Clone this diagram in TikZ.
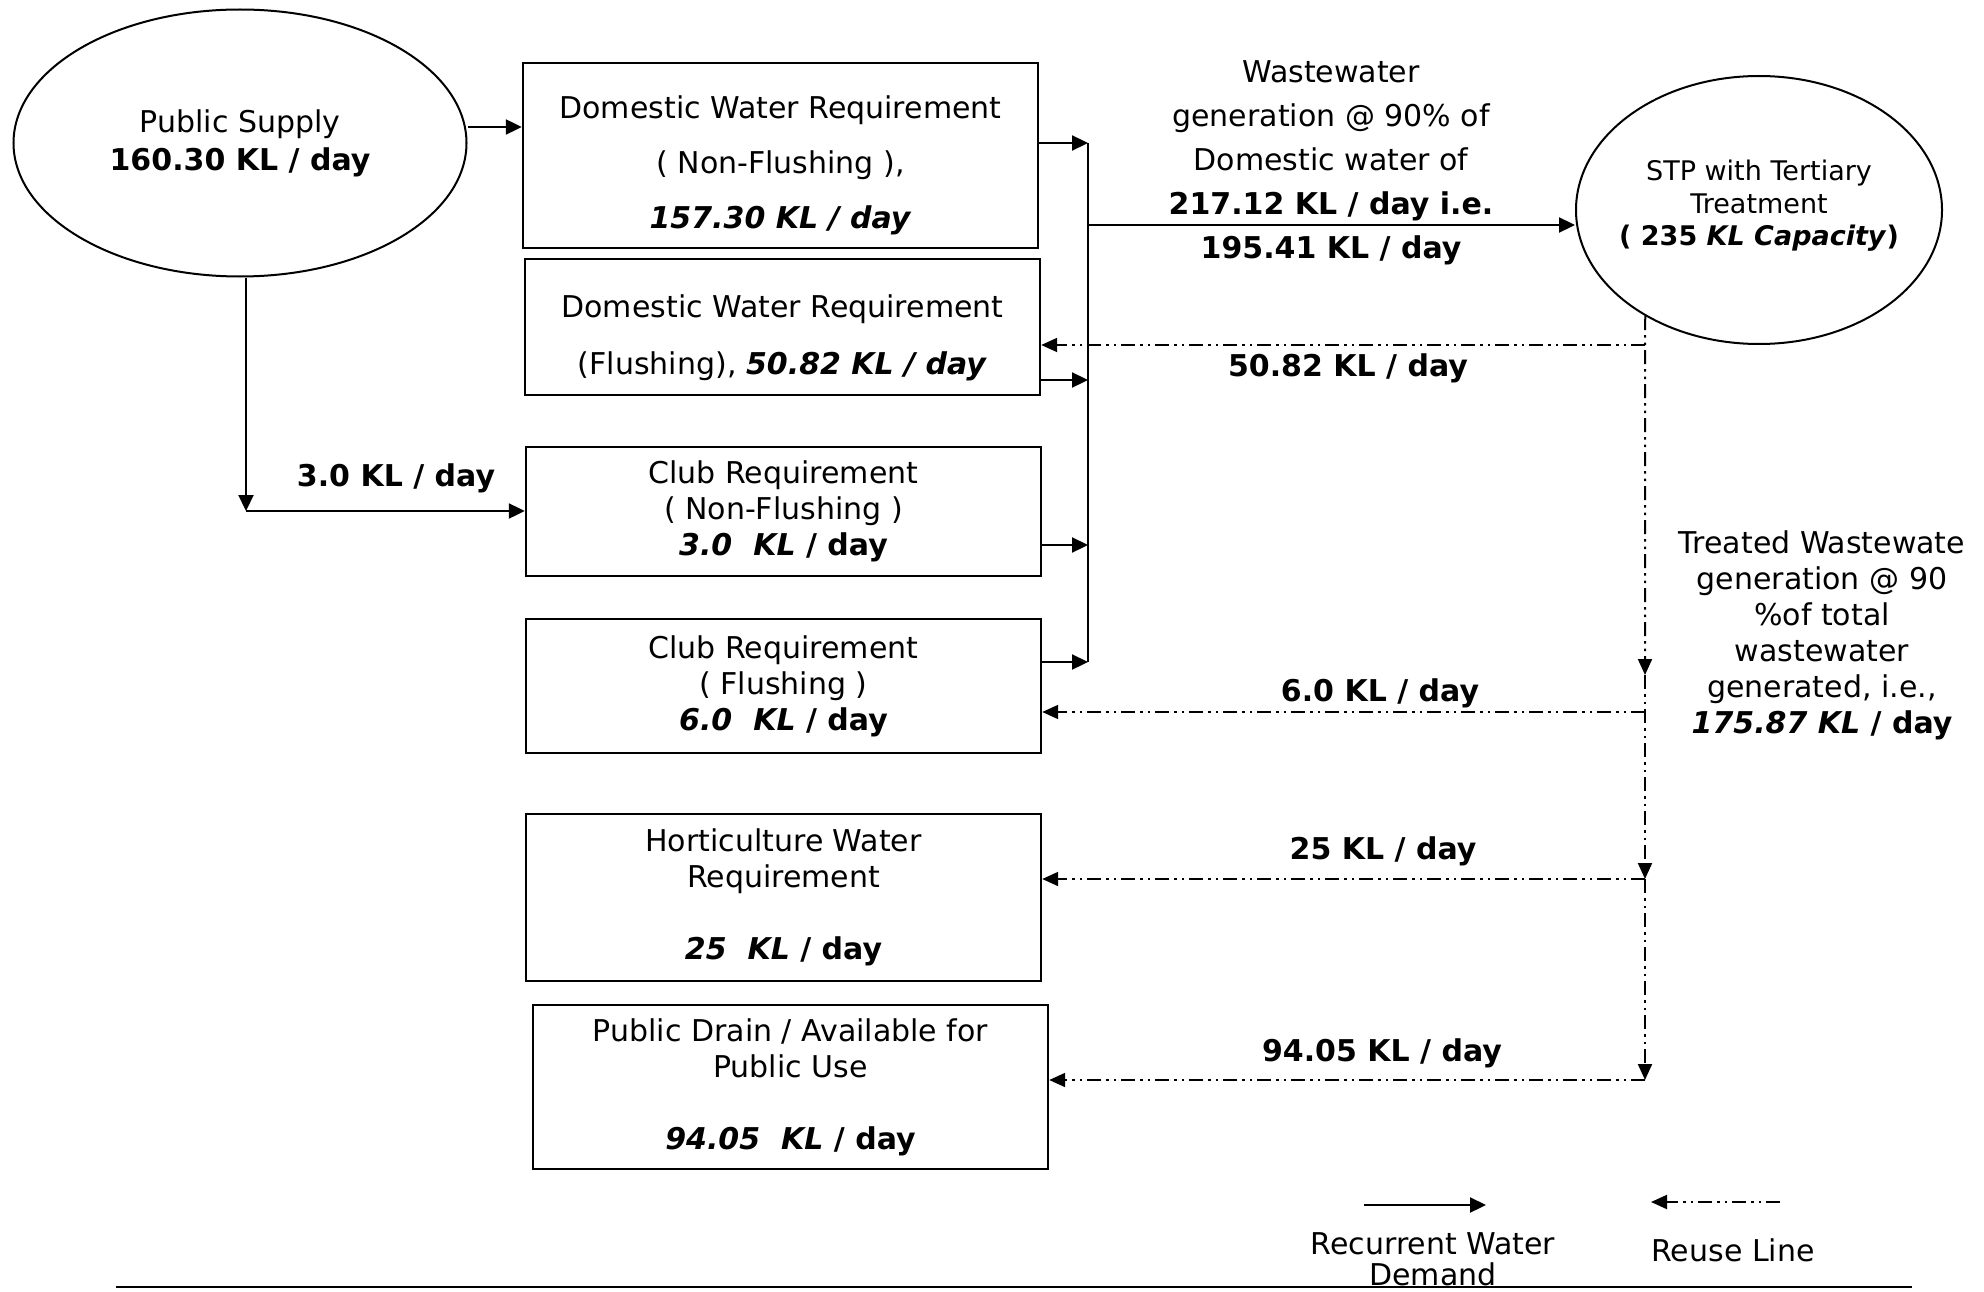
\documentclass[tikz,border=0pt]{standalone}
\usepackage{fontspec}
\setmainfont{DejaVu Sans}
\usetikzlibrary{arrows.meta,shapes.geometric}
\begin{document}
\begin{tikzpicture}[x=1pt,y=-1pt,
  every node/.style={font=\fontsize{30}{36}\selectfont, inner sep=0pt, align=center},
  box/.style={draw, line width=2.4pt, rectangle, minimum width=515pt},
  oval/.style={draw, ellipse, line width=2pt},
  arr/.style={line width=2.2pt, -{Triangle[length=16pt,width=15pt]}},
  reuse/.style={line width=2pt, dash pattern=on 14pt off 5pt on 2.5pt off 5pt on 2.5pt off 5pt, -{Triangle[length=16pt,width=14pt]}},
  lbl/.style={font=\fontsize{30}{36}\selectfont\bfseries}]
\useasboundingbox (0,0) rectangle (1984,1292);

% main nodes
\node[oval, minimum width=453pt, minimum height=267pt] (ps) at (240,143) {};
\node (pst) at (ps) {Public Supply\\[2pt]\textbf{160.30 KL / day}};
\node[oval, minimum width=366pt, minimum height=268pt] (stp) at (1759,210) {};
\node[font=\fontsize{27}{32.5}\selectfont] (stpt) at (1759,206)
  {STP with Tertiary\\Treatment\\\textbf{( 235 \textit{KL Capacity})}};

\node[box, minimum height=185pt, font=\fontsize{30}{55}\selectfont] (b1) at (780.5,155.5)
  {\rule{0pt}{43pt}Domestic Water Requirement\\( Non-Flushing ),\\\textbf{\textit{157.30 KL / day}}};
\node[box, minimum height=136pt, font=\fontsize{30}{57}\selectfont] (b2) at (782.5,327)
  {\rule{0pt}{45pt}Domestic Water Requirement\\(Flushing), \textbf{\textit{50.82 KL / day}}};
\node[box, minimum height=129pt] (b3) at (783.5,511.5)
  {Club Requirement\\( Non-Flushing )\\\textbf{\textit{3.0\ \ KL} / day}};
\node[box, minimum height=134pt] (b4) at (783.5,686)
  {Club Requirement\\( Flushing )\\\textbf{\textit{6.0\ \ KL} / day}};
\node[box, minimum height=167pt] (b5) at (783.5,897.5)
  {Horticulture Water\\Requirement\\[36pt]\textbf{\textit{25\ \ KL} / day}};
\node[box, minimum height=164pt] (b6) at (790.5,1087)
  {Public Drain / Available for\\Public Use\\[36pt]\textbf{\textit{94.05\ \ KL} / day}};

% labels
\node[lbl] (l30) at (396,478) {3.0 KL / day};
\node[font=\fontsize{30}{44}\selectfont] (ww) at (1331,163)
  {Wastewater\\generation @ 90\% of\\Domestic water of\\\textbf{217.12 KL / day i.e.}\\\textbf{195.41 KL / day}};
\node (tw) at (1822,635)
  {Treated Wastewate\\ generation @ 90\\\%of total\\wastewater\\generated, i.e.,\\\textbf{\textit{175.87 KL} / day}};
\node[lbl] (l5082) at (1348,368) {50.82 KL / day};
\node[lbl] (l60) at (1380,693) {6.0 KL / day};
\node[lbl] (l25) at (1383,851) {25 KL / day};
\node[lbl] (l9405) at (1382,1053) {94.05 KL / day};

% coordinates
\coordinate (psDown) at (246,511);
\coordinate (colT) at (1088,143);
\coordinate (colM) at (1088,225);
\coordinate (colB) at (1088,662);
\coordinate (v1) at (1645,345);
\coordinate (v2) at (1645,675);
\coordinate (v3) at (1645,712);
\coordinate (v4) at (1645,879);
\coordinate (v5) at (1645,1080);

% recurrent demand connectors
\draw[arr] (ps.east |- 0,127) -- (b1.west |- 0,127);
\draw[arr] (ps.south -| psDown) -- (psDown);
\draw[arr] (psDown) -- (b3.west |- psDown);
\draw[arr] (b1.east |- colT) -- (colT);
\draw[arr] (b2.east |- 0,380) -- (1088,380);
\draw[arr] (b3.east |- 0,545) -- (1088,545);
\draw[arr] (b4.east |- colB) -- (colB);
\draw[line width=2.2pt] (colT) -- (colB);
\draw[arr] (colM) -- (stp.west |- colM);

% reuse lines
\draw[reuse] (stp.223) -- (v2);
\draw[reuse] (v2) -- (v4);
\draw[reuse] (v4) -- (v5);
\draw[reuse] (v1) -- (b2.east |- v1);
\draw[reuse] (v3) -- (b4.east |- v3);
\draw[reuse] (v4) -- (b5.east |- v4);
\draw[reuse] (v5) -- (b6.east |- v5);

% legend
\coordinate (lgA) at (1364,1205);
\coordinate (lgB) at (1486,1205);
\coordinate (lgC) at (1780,1202);
\coordinate (lgD) at (1651,1202);
\draw[arr] (lgA) -- (lgB);
\draw[reuse] (lgC) -- (lgD);
\node[font=\fontsize{30}{31}\selectfont] (lgt1) at (1433,1259) {Recurrent Water\\Demand};
\node (lgt2) at (1733,1250) {Reuse Line};

\coordinate (rlA) at (116,1287);
\coordinate (rlB) at (1912,1287);
\draw[line width=2pt] (rlA) -- (rlB);
\end{tikzpicture}
\end{document}
